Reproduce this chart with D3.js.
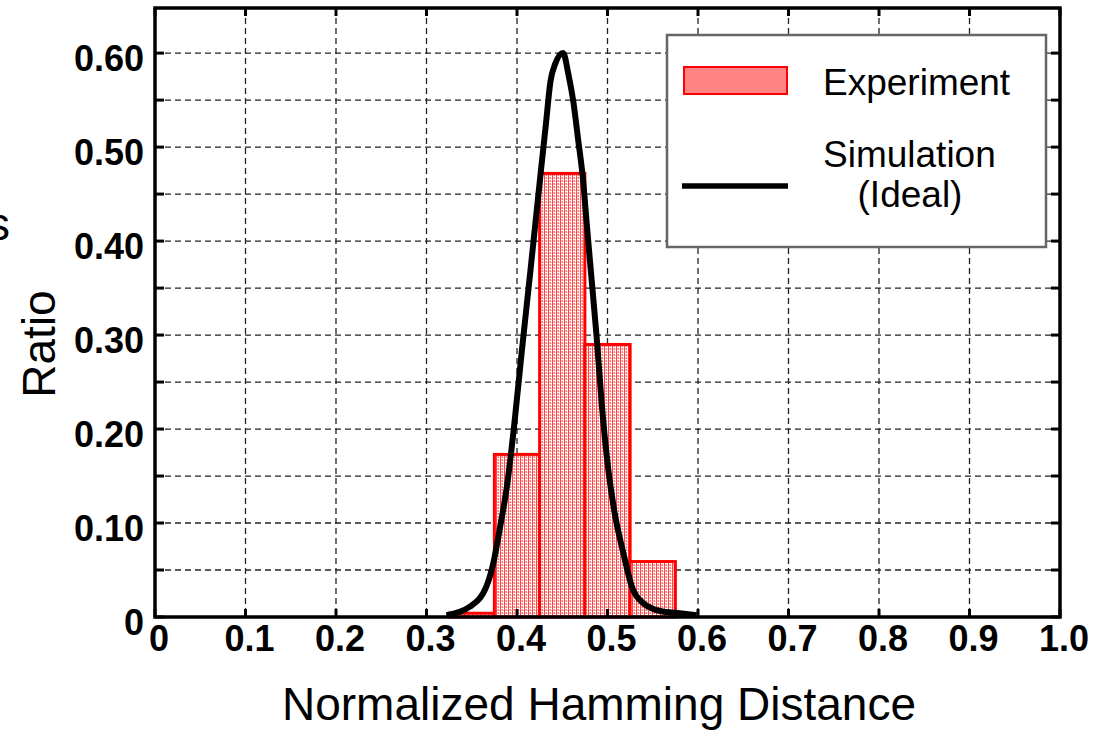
<!DOCTYPE html>
<html>
<head>
<meta charset="utf-8">
<script src="https://cdn.jsdelivr.net/npm/d3@7"></script>
<style>
  body { margin: 0; background: #fff; }
  svg { display: block; font-family: "Liberation Sans", Arial, sans-serif; }
</style>
</head>
<body>
<script>
// histogram of measured ratios (bin edges + heights)
const binEdges = [0.325, 0.375, 0.425, 0.475, 0.525, 0.575]
const ratios = [0.004, 0.173, 0.472, 0.290, 0.059]

// ideal simulation curve
const simX = [0.322, 0.348, 0.366, 0.374, 0.381, 0.389, 0.397, 0.405, 0.415, 0.425,
  0.432, 0.437, 0.442, 0.451, 0.4567, 0.462, 0.4677, 0.473, 0.477,
  0.4825, 0.488, 0.4936, 0.501, 0.508, 0.5175, 0.527, 0.5396, 0.558, 0.580, 0.5985]
const simY = [0.002, 0.011, 0.032, 0.058, 0.094, 0.140, 0.205, 0.280, 0.370, 0.462,
  0.525, 0.570, 0.588, 0.600, 0.578, 0.550, 0.507, 0.465, 0.419,
  0.3585, 0.298, 0.227, 0.156, 0.110, 0.068, 0.032, 0.0146, 0.0064, 0.004, 0.002]

const xTicks = [0, 0.1, 0.2, 0.3, 0.4, 0.5, 0.6, 0.7, 0.8, 0.9, 1.0]
const xTickLabels = ['0', '0.1', '0.2', '0.3', '0.4', '0.5', '0.6', '0.7', '0.8', '0.9', '1.0']
const yTicks = [0, 0.1, 0.2, 0.3, 0.4, 0.5, 0.6]
const yTickLabels = ['0', '0.10', '0.20', '0.30', '0.40', '0.50', '0.60']
const yMinor = [0.05, 0.15, 0.25, 0.35, 0.45, 0.55]

const width = 1093, height = 731
const plot = {left: 155, right: 1060, top: 8, bottom: 617}

const svg = d3.select('body').append('svg')
    .attr('width', width)
    .attr('height', height)

const xScale = d3.scaleLinear().domain([0, 1]).range([plot.left, plot.right])
const yScale = d3.scaleLinear().domain([0, 0.648]).range([plot.bottom, plot.top])

// dotted fill used by the bars
const pat = svg.append('defs').append('pattern')
    .attr('id', 'dots')
    .attr('width', 4).attr('height', 3)
    .attr('patternUnits', 'userSpaceOnUse')
pat.append('rect').attr('width', 4).attr('height', 3).attr('fill', '#fff')
pat.append('rect').attr('x', 0).attr('width', 1).attr('height', 3).attr('fill', '#f44')
pat.append('rect').attr('x', 1).attr('width', 1).attr('height', 2).attr('fill', '#fbb')
pat.append('rect').attr('x', 2).attr('width', 1).attr('height', 2).attr('fill', '#f77')
pat.append('rect').attr('x', 3).attr('y', 1).attr('width', 1).attr('height', 1).attr('fill', '#fcc')

// dashed grid
const grid = svg.append('g')
    .attr('stroke', '#222')
    .attr('stroke-width', 1.3)
    .attr('stroke-dasharray', '6,4')
grid.selectAll('.vg').data(xTicks.slice(1, -1)).enter().append('line')
    .attr('x1', d => xScale(d)).attr('x2', d => xScale(d))
    .attr('y1', plot.top).attr('y2', plot.bottom)
grid.selectAll('.hg').data(yTicks.slice(1).concat(yMinor)).enter().append('line')
    .attr('x1', plot.left).attr('x2', plot.right)
    .attr('y1', d => yScale(d)).attr('y2', d => yScale(d))

// bars
svg.selectAll('.bar').data(ratios).enter().append('rect')
    .attr('x', (d, i) => xScale(binEdges[i]))
    .attr('width', (d, i) => xScale(binEdges[i + 1]) - xScale(binEdges[i]))
    .attr('y', d => yScale(d))
    .attr('height', d => yScale(0) - yScale(d))
    .attr('fill', 'url(#dots)')
    .attr('stroke', '#f00')
    .attr('stroke-width', 3)

// simulation curve
const line = d3.line()
    .x(d => xScale(d[0]))
    .y(d => yScale(d[1]))
    .curve(d3.curveMonotoneX)
svg.append('path')
    .datum(simX.map((x, i) => [x, simY[i]]))
    .attr('d', line)
    .attr('fill', 'none')
    .attr('stroke', '#000')
    .attr('stroke-width', 6)
    .attr('stroke-linejoin', 'round')

// inside ticks on all four sides
const ticks = svg.append('g').attr('stroke', '#000').attr('stroke-width', 3)
ticks.selectAll('.tl').data(yTicks.concat(yMinor)).enter().append('line')
    .attr('x1', plot.left).attr('x2', plot.left + 9)
    .attr('y1', d => yScale(d)).attr('y2', d => yScale(d))
ticks.selectAll('.tr').data(yTicks.concat(yMinor)).enter().append('line')
    .attr('x1', plot.right).attr('x2', plot.right - 9)
    .attr('y1', d => yScale(d)).attr('y2', d => yScale(d))
ticks.selectAll('.tb').data(xTicks).enter().append('line')
    .attr('x1', d => xScale(d)).attr('x2', d => xScale(d))
    .attr('y1', plot.bottom).attr('y2', plot.bottom - 8)
ticks.selectAll('.tt').data(xTicks).enter().append('line')
    .attr('x1', d => xScale(d)).attr('x2', d => xScale(d))
    .attr('y1', plot.top).attr('y2', plot.top + 8)

// frame
svg.append('rect')
    .attr('x', plot.left).attr('y', plot.top)
    .attr('width', plot.right - plot.left).attr('height', plot.bottom - plot.top)
    .attr('fill', 'none').attr('stroke', '#000').attr('stroke-width', 3.5)

// tick labels
svg.selectAll('.xl').data(xTicks).enter().append('text')
    .attr('x', d => xScale(d) + 4)
    .attr('y', 651)
    .attr('text-anchor', 'middle')
    .attr('font-size', '36px').attr('font-weight', 'bold')
    .text((d, i) => xTickLabels[i])
svg.selectAll('.yl').data(yTicks).enter().append('text')
    .attr('x', 144)
    .attr('y', d => yScale(d) + 18)
    .attr('text-anchor', 'end')
    .attr('font-size', '36px').attr('font-weight', 'bold')
    .text((d, i) => yTickLabels[i])

// axis titles
svg.append('text')
    .attr('x', 599).attr('y', 720)
    .attr('text-anchor', 'middle')
    .attr('font-size', '46px')
    .text('Normalized Hamming Distance')
svg.append('text')
    .attr('transform', 'translate(55,344) rotate(-90)')
    .attr('text-anchor', 'middle')
    .attr('font-size', '46px')
    .text('Ratio')
// only the tail of a clipped label shows at the left edge
svg.append('text')
    .attr('x', 10).attr('y', 240)
    .attr('text-anchor', 'end')
    .attr('font-size', '46px')
    .text('s')

// legend
const legend = svg.append('g')
legend.append('rect')
    .attr('x', 667).attr('y', 35).attr('width', 379).attr('height', 212)
    .attr('fill', '#fff').attr('stroke', '#666').attr('stroke-width', 2.5)
legend.append('rect')
    .attr('x', 684).attr('y', 67).attr('width', 103).attr('height', 27)
    .attr('fill', '#ff8585').attr('stroke', '#f00').attr('stroke-width', 2)
legend.append('line')
    .attr('x1', 682).attr('x2', 788).attr('y1', 186).attr('y2', 186)
    .attr('stroke', '#000').attr('stroke-width', 5.5)
legend.append('text')
    .attr('x', 823).attr('y', 95)
    .attr('font-size', '37px')
    .text('Experiment')
legend.append('text')
    .attr('x', 823).attr('y', 167)
    .attr('font-size', '37px')
    .text('Simulation')
legend.append('text')
    .attr('x', 910).attr('y', 207)
    .attr('text-anchor', 'middle')
    .attr('font-size', '37px')
    .text('(Ideal)')
</script>
</body>
</html>
